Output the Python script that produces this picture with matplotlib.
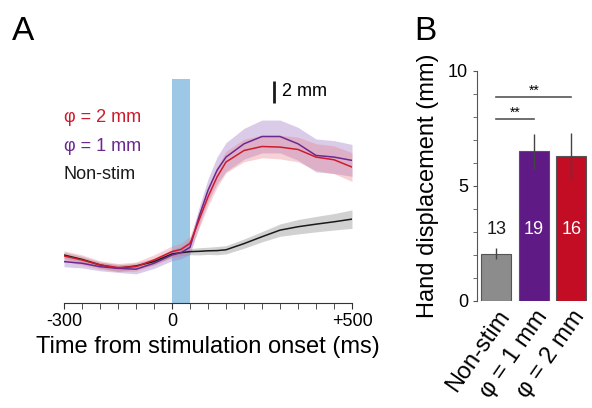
import numpy as np
import matplotlib
matplotlib.use('Agg')
import matplotlib.pyplot as plt

plt.rcParams['font.family'] = ['Liberation Sans', 'DejaVu Sans']

# panel A: mean hand trajectories (mm) vs time from stimulation onset (ms)
t = [-300, -250, -200, -150, -100, -50, 0, 25, 50, 75, 100, 125, 150, 200, 250, 300, 350, 400, 450, 500]
nonstim = [0.19, -0.23, -0.77, -1.1, -0.87, -0.45, 0.29, 0.42, 0.52, 0.55, 0.6, 0.62, 0.7, 1.3, 1.97, 2.61, 2.94, 3.19, 3.42, 3.68]
nonstim_sem = [0.3, 0.3, 0.3, 0.3, 0.3, 0.3, 0.3, 0.3, 0.3, 0.35, 0.35, 0.4, 0.4, 0.45, 0.5, 0.6, 0.7, 0.75, 0.8, 0.9]
phi2 = [0.1, -0.29, -0.77, -1.03, -0.94, -0.29, 0.52, 0.74, 1.32, 3.58, 5.84, 7.77, 9.23, 10.35, 10.74, 10.68, 10.45, 9.71, 9.45, 8.74]
phi2_sem = [0.5, 0.5, 0.4, 0.4, 0.45, 0.5, 0.55, 0.6, 0.7, 0.8, 0.9, 1.0, 1.05, 1.1, 1.1, 1.15, 1.2, 1.3, 1.35, 1.4]
phi1 = [-0.45, -0.61, -0.94, -1.1, -1.19, -0.61, 0.19, 0.42, 0.94, 3.9, 6.48, 8.42, 9.71, 11.0, 11.71, 11.71, 11.0, 9.87, 9.71, 9.39]
phi1_sem = [0.5, 0.45, 0.4, 0.4, 0.45, 0.5, 0.55, 0.6, 0.7, 0.9, 1.1, 1.3, 1.4, 1.5, 1.6, 1.6, 1.6, 1.6, 1.6, 1.55]

# panel B: mean hand displacement
groups = ['Non-stim', 'φ = 1 mm', 'φ = 2 mm']
disp = [2.05, 6.5, 6.3]
disp_err = [0.24, 0.77, 1.0]
n_trials = ['13', '19', '16']

c_red = '#cf1a2c'
c_purple = '#6b2990'
c_black = '#1a1a1a'

fig = plt.figure(figsize=(5.92, 4.08), dpi=100)

# ---- A ----
ax = fig.add_axes([0.1081, 0.2574, 0.4865, 0.549])
ax.axvspan(0, 50, color='#9cc8e6', lw=0, zorder=0)
t = np.array(t)
for m, s, c, fc, a in [(nonstim, nonstim_sem, c_black, '#9a9a9a', 0.45),
                       (phi1, phi1_sem, c_purple, '#a37fc6', 0.4),
                       (phi2, phi2_sem, c_red, '#e8808a', 0.35)]:
    m = np.array(m)
    s = np.array(s)
    ax.fill_between(t, m - s, m + s, color=fc, alpha=a, lw=0, zorder=1)
    ax.plot(t, m, color=c, lw=1.1, zorder=2)

ax.set_xlim(-300, 500)
ax.set_ylim(-4.47, 17.3)
for sp in ['top', 'right', 'left']:
    ax.spines[sp].set_visible(False)
ax.spines['bottom'].set_color('#333333')
ax.set_yticks([])
ax.set_xticks(np.arange(-300, 501, 50), minor=True)
ax.set_xticks([-300, 0, 500])
ax.set_xticklabels(['-300', '0', '+500'])
ax.tick_params(axis='x', which='both', direction='out', length=4, color='#333333', labelsize=13)
ax.set_xlabel('Time from stimulation onset (ms)', fontsize=17, labelpad=4)

# scale bar
ax.plot([283, 283], [15.0, 17.1], color=c_black, lw=2, solid_capstyle='butt')
ax.text(305, 16.1, '2 mm', fontsize=13, va='center', ha='left')

ax.text(-300, 13.6, 'φ = 2 mm', color=c_red, fontsize=13, va='center')
ax.text(-300, 10.7, 'φ = 1 mm', color=c_purple, fontsize=13, va='center')
ax.text(-300, 8.06, 'Non-stim', color=c_black, fontsize=13, va='center')

fig.text(0.02, 0.96, 'A', fontsize=24, va='top')
fig.text(0.70, 0.96, 'B', fontsize=24, va='top')

# ---- B ----
bx = fig.add_axes([0.8057, 0.2623, 0.1909, 0.5637])
x = np.arange(3)
bx.bar(x, disp, width=0.8, color=['#8c8c8c', '#5f1a86', '#c20d24'],
       edgecolor='#555555', lw=0.8, zorder=2)
bx.errorbar(x, disp, yerr=disp_err, fmt='none', ecolor='#444444', elinewidth=1, capsize=0, zorder=3)
for xi, n, c in zip(x, n_trials, [c_black, 'white', 'white']):
    bx.text(xi, 3.1, n, color=c, fontsize=13, ha='center', va='center', zorder=4)

# significance brackets
bx.plot([0, 2], [8.87, 8.87], color='#555555', lw=1.2)
bx.text(1, 9.15, '**', ha='center', va='center', fontsize=10)
bx.plot([0, 1], [7.93, 7.93], color='#555555', lw=1.2)
bx.text(0.5, 8.2, '**', ha='center', va='center', fontsize=10)

bx.set_xlim(-0.515, 2.5)
bx.set_ylim(0, 10)
for sp in ['top', 'right', 'bottom']:
    bx.spines[sp].set_visible(False)
bx.spines['left'].set_color('#555555')
bx.set_yticks([0, 5, 10])
bx.set_yticks(np.arange(0, 11, 1), minor=True)
bx.tick_params(axis='y', which='both', direction='out', length=3, color='#555555', labelsize=13)
bx.set_ylabel('Hand displacement (mm)', fontsize=17, labelpad=6)
bx.set_xticks(x)
bx.set_xticklabels(groups, rotation=55, ha='right', rotation_mode='anchor', fontsize=17)
bx.tick_params(axis='x', length=0, pad=4)

fig.savefig('out.png', dpi=100)
